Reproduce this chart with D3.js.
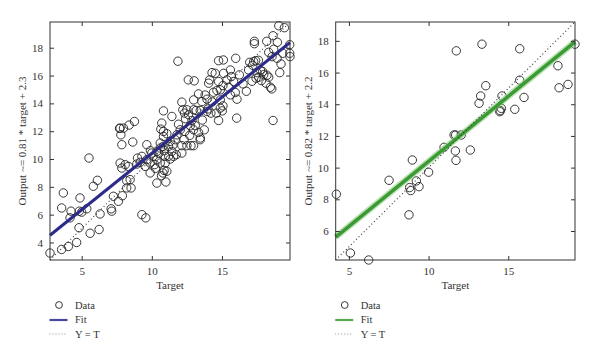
<!DOCTYPE html>
<html>
<head>
<meta charset="utf-8">
<script src="https://cdn.jsdelivr.net/npm/d3@7"></script>
<style>
  html, body { margin: 0; padding: 0; background: #fff; }
  svg text { font-family: "Liberation Serif", "DejaVu Serif", serif; fill: #333; }
</style>
</head>
<body>
<svg id="chart" width="600" height="358"></svg>
<script>
// ---- Data: left panel ----
const targetsA = [19.05,19.45,18.64,18.95,18.19,17.31,17.31,19.83,19.83,19.85,19.33,18.93,18.57,18.33,18.69,
  16.98,17.26,17.4,17.19,17.74,17.9,17.5,18.21,17.98,18.33,17.62,17.43,17.14,17.81,18.14,18.45,18.55,19.12,19.21,
  16.74,16.24,15.98,15.1,14.76,15.6,15.67,15.12,14.29,14.52,14.76,15.36,15.83,15.48,15.95,16.07,15.6,15.07,14.88,
  14.64,14.4,14.12,14.05,14.88,15.07,14.88,15.02,14.6,14.76,14.21,13.93,13.45,13.33,13.93,13.57,12.98,12.6,13.02,
  11.86,16.05,18.64,10.83,11.43,12.14,12.21,12.33,12.5,12.62,12.98,13.17,12.86,12.74,12.98,13.33,13.45,13.74,12.36,
  12.02,11.79,11.07,10.83,10.6,10.71,10.64,10.83,7.98,7.74,7.79,7.86,8.64,8.76,8.38,9.64,10.0,10.36,10.6,11.19,
  11.43,11.31,11.67,12.14,12.5,12.79,12.98,13.45,12.14,10.95,9.29,9.64,9.88,8.98,9.17,11.31,11.55,11.74,10.36,10.6,
  10.26,10.95,11.07,10.79,9.88,9.52,7.74,8.1,7.86,8.33,8.93,5.52,
  2.74,3.57,4.05,4.64,4.81,5.6,6.24,3.57,3.69,4.24,4.17,4.83,5.0,5.36,4.88,5.83,6.12,6.31,7.1,7.14,7.26,7.62,7.9,
  8.21,8.21,8.52,9.29,9.57,10.36,11.0,10.69,10.88,8.45,7.7,
  10.1,10.5,10.9,11.2,9.9,10.2,10.8,11.5,12.3,12.7,13.1,13.6,14.0,13.8,12.4,11.9,14.3,16.5,16.9,17.6];
const outputsA = [19.58,19.44,18.86,18.39,18.46,18.46,18.29,18.22,17.6,17.36,17.6,17.24,17.36,17.67,17.89,
  16.95,17.0,17.07,16.74,16.4,16.28,16.21,16.02,16.07,15.88,15.88,15.81,15.59,15.64,15.45,15.16,15.04,16.21,16.83,
  14.87,16.05,17.24,17.12,17.07,16.4,15.93,16.16,16.21,16.16,15.57,15.69,15.57,15.16,14.78,14.3,14.61,15.28,14.97,
  14.92,14.8,15.69,15.45,14.25,13.82,13.66,13.46,13.3,12.77,13.3,13.42,13.49,14.68,14.3,14.13,14.25,15.69,15.62,
  17.03,12.94,12.77,13.46,13.06,14.09,13.54,13.3,13.54,13.18,13.54,13.49,12.77,12.39,12.1,11.91,11.51,12.1,11.98,
  12.1,11.74,11.82,11.62,11.15,12.58,12.15,11.98,12.22,12.22,11.74,11.03,11.22,12.7,12.44,11.03,10.43,10.55,10.79,10.91,
  10.55,11.27,11.39,10.96,10.96,10.96,10.96,11.39,10.43,10.19,10.19,9.95,9.71,10.07,9.76,10.0,10.19,10.31,9.95,9.71,
  9.33,9.71,9.12,9.0,9.0,9.47,9.71,9.59,9.35,9.47,9.64,10.07,
  3.24,3.5,3.71,4.0,5.06,4.66,4.93,6.48,7.56,6.25,5.77,6.25,6.18,6.42,7.2,8.04,8.47,6.05,6.42,6.25,7.32,6.96,7.36,
  8.44,7.92,7.92,6.0,5.77,8.27,8.35,8.8,9.18,8.52,12.2,
  10.2,10.4,10.6,10.2,10.6,9.6,10.9,11.0,11.4,11.7,12.4,12.8,13.6,14.6,12.9,12.5,14.1,15.4,16.4,17.1];

// ---- Data: right panel ----
const targetsB = [4.21,5.09,6.24,7.52,8.77,8.81,8.88,9.23,9.4,8.98,10.0,10.97,11.6,11.7,12.05,11.68,11.72,12.62,
  11.74,13.35,15.72,19.19,18.12,18.19,18.75,15.72,15.99,13.59,13.27,13.17,14.61,14.57,14.47,14.5,15.41];
const outputsB = [8.32,4.61,4.17,9.2,7.02,8.74,8.55,9.16,8.8,10.48,9.71,11.28,12.06,12.06,12.06,11.05,10.46,11.11,
  17.37,17.79,17.5,17.79,16.43,15.04,15.25,15.52,14.43,15.17,14.52,14.06,14.52,13.74,13.53,13.6,13.68];

const fitA = { slope: 0.81, intercept: 2.3 };
const fitB = { slope: 0.82, intercept: 2.2 };
const labelA = "Output ~= 0.81 * target + 2.3";
const labelB = "Output ~= 0.82 * target + 2.2";
const xTicks = [5, 10, 15];
const yTicksA = [4, 6, 8, 10, 12, 14, 16, 18];
const yTicksB = [6, 8, 10, 12, 14, 16, 18];
const legendLabels = ["Data", "Fit", "Y = T"];

const svg = d3.select("#chart");

function panel(cfg) {
  const { x0, x1, y0, y1, targets, outputs, fit, label, yTicks, fitColor, halo } = cfg;
  const all = targets.concat(outputs);
  const ext = d3.extent(all);
  const x = d3.scaleLinear().domain(ext).range([x0, x1]);
  const y = d3.scaleLinear().domain(ext).range([y1, y0]);
  const g = svg.append("g");

  const pts = d3.zip(targets, outputs);
  g.append("g").selectAll("circle").data(pts).join("circle")
    .attr("cx", d => x(d[0])).attr("cy", d => y(d[1])).attr("r", 4.2)
    .attr("fill", "none").attr("stroke", "#222").attr("stroke-width", 0.9);

  const line = d3.line().x(d => x(d)).y(d => y(fit.slope * d + fit.intercept));
  if (halo) {
    g.append("path").attr("d", line(ext)).attr("stroke", halo).attr("stroke-width", 6.5)
      .attr("fill", "none").attr("opacity", 0.6);
  }
  g.append("path").attr("d", line(ext)).attr("stroke", fitColor)
    .attr("stroke-width", halo ? 3.5 : 3).attr("fill", "none");

  g.append("line").attr("x1", x(ext[0])).attr("y1", y(ext[0])).attr("x2", x(ext[1])).attr("y2", y(ext[1]))
    .attr("stroke", "#333").attr("stroke-width", 1.1).attr("stroke-dasharray", "1,2.6");

  g.append("rect").attr("x", x0).attr("y", y0).attr("width", x1 - x0).attr("height", y1 - y0)
    .attr("fill", "none").attr("stroke", "#333").attr("stroke-width", 1);

  const tl = 4;
  g.append("g").attr("transform", `translate(0,${y1})`)
    .call(d3.axisBottom(x).tickValues(xTicks).tickSize(-tl).tickPadding(7).tickFormat(d3.format("d")))
    .call(a => a.select(".domain").remove());
  g.append("g").attr("transform", `translate(0,${y0})`)
    .call(d3.axisTop(x).tickValues(xTicks).tickSize(-tl).tickFormat(""))
    .call(a => a.select(".domain").remove());
  g.append("g").attr("transform", `translate(${x0},0)`)
    .call(d3.axisLeft(y).tickValues(yTicks).tickSize(-tl).tickPadding(7).tickFormat(d3.format("d")))
    .call(a => a.select(".domain").remove());
  g.append("g").attr("transform", `translate(${x1},0)`)
    .call(d3.axisRight(y).tickValues(yTicks).tickSize(-tl).tickFormat(""))
    .call(a => a.select(".domain").remove());
  g.selectAll(".tick line").attr("stroke", "#333");
  g.selectAll(".tick text").attr("font-size", 11).attr("font-family", "Liberation Serif").attr("fill", "#333");

  g.append("text").attr("x", (x0 + x1) / 2).attr("y", y1 + 29).attr("text-anchor", "middle")
    .attr("font-size", 11).text("Target");
  g.append("text").attr("transform", `translate(${x0 - 24},${(y0 + y1) / 2}) rotate(-90)`)
    .attr("text-anchor", "middle").attr("font-size", 11).text(label);

  const lx = x0 + 9, ly = 305;
  const lg = g.append("g");
  lg.append("circle").attr("cx", lx).attr("cy", ly).attr("r", 3.4).attr("fill", "none")
    .attr("stroke", "#222").attr("stroke-width", 0.9);
  lg.append("line").attr("x1", lx - 9.5).attr("x2", lx + 8.5).attr("y1", ly + 15).attr("y2", ly + 15)
    .attr("stroke", fitColor).attr("stroke-width", 2.2).attr("opacity", 0.85);
  lg.append("line").attr("x1", lx - 9.5).attr("x2", lx + 8.5).attr("y1", ly + 29).attr("y2", ly + 29)
    .attr("stroke", "#777").attr("stroke-width", 0.8).attr("stroke-dasharray", "1,2");
  lg.selectAll("text").data(legendLabels).join("text")
    .attr("x", lx + 16).attr("y", (d, i) => ly + i * 14.5).attr("dy", "0.35em")
    .attr("font-size", 10.5).text(d => d);
}

panel({ x0: 50, x1: 290, y0: 22, y1: 260, targets: targetsA, outputs: outputsA, fit: fitA,
  label: labelA, yTicks: yTicksA, fitColor: "#2c2a8a", halo: null });
panel({ x0: 335.7, x1: 575, y0: 22, y1: 260, targets: targetsB, outputs: outputsB, fit: fitB,
  label: labelB, yTicks: yTicksB, fitColor: "#3c9a34", halo: "#8fcf86" });
</script>
</body>
</html>
